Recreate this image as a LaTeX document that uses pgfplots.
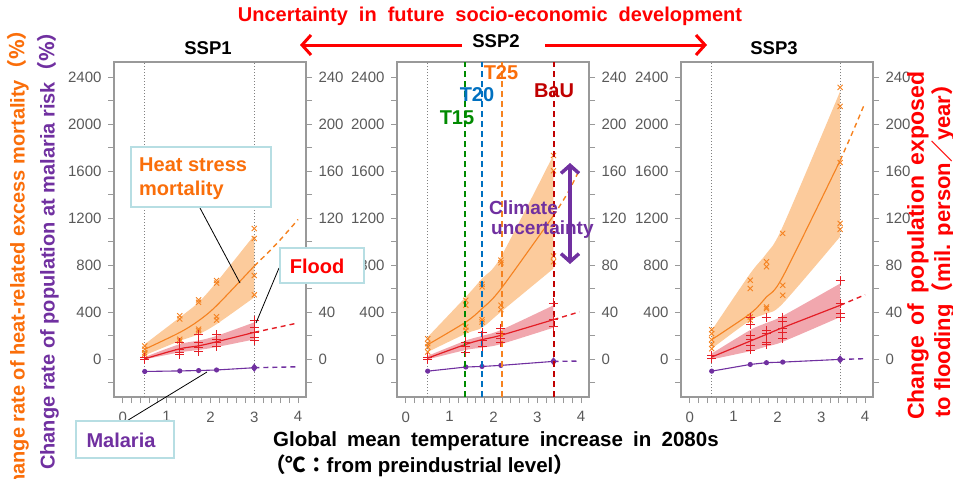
\documentclass[border=0pt]{standalone}
\usepackage{pgfplots}
\pgfplotsset{compat=1.18}
\usepgfplotslibrary{fillbetween}
\usetikzlibrary{arrows.meta}
\usepackage{fontspec}
\setmainfont{Liberation Sans}
\newfontfamily\cjk{Noto Sans CJK JP}
\definecolor{cOr}{HTML}{F58220}
\definecolor{cOrBand}{HTML}{FCCB9C}
\definecolor{cRed}{HTML}{E41E26}
\definecolor{cRedBand}{HTML}{EC8A93}
\definecolor{cPur}{HTML}{7030A0}
\definecolor{cTxtOr}{HTML}{FA6E0A}
\definecolor{cGreen}{HTML}{008A00}
\definecolor{cBlue}{HTML}{0070C0}
\definecolor{cBaU}{HTML}{C00000}
\definecolor{cBox}{HTML}{B7DEE3}
\definecolor{cAxis}{HTML}{999999}
\definecolor{cTick}{HTML}{595959}
\pgfplotsset{
 panel/.style={scale only axis, width=192pt, height=335pt, xmin=-0.2, xmax=4.18, anchor=south west,
   axis line style={cAxis, line width=1.2pt}, tick style={cAxis, line width=1pt}, tick align=outside,
   major tick length=6pt, minor tick length=6pt,
   ticklabel style={font=\fontsize{15}{17}\selectfont, text=cTick},
   /pgf/number format/assume math mode=true, /pgf/number format/1000 sep={}, scaled ticks=false},
 leftax/.style={panel, ymin=-320, ymax=2530, ytick={0,400,...,2400}, minor ytick={-200,200,...,2200},
   xtick={0,1,2,3,4}, minor x tick num=4, xtick pos=bottom, ytick pos=left,
   yticklabel style={xshift=-3pt}, xticklabel style={yshift=-5pt}},
 rightax/.style={panel, ymin=-32, ymax=253, ytick={0,40,...,240}, minor ytick={-20,20,...,220},
   axis y line*=right, hide x axis, yticklabel style={xshift=3pt}},
 band/.style={draw=none, smooth, forget plot},
 oline/.style={cOr, line width=1.1pt, smooth, no marks},
 odash/.style={cOr, line width=1.4pt, dash pattern=on 5pt off 4pt, smooth, no marks},
 omark/.style={only marks, mark=x, mark size=3.6pt, cOr, mark options={line width=0.9pt}},
 rline/.style={cRed, line width=1.2pt, smooth, no marks},
 rdash/.style={cRed, line width=1.4pt, dash pattern=on 5pt off 4pt, no marks},
 rmark/.style={only marks, mark=+, mark size=4.5pt, cRed, mark options={line width=0.9pt}},
 pline/.style={cPur, line width=1.1pt, mark=*, mark size=2pt},
 pdash/.style={cPur, line width=1.4pt, dash pattern=on 5pt off 4pt, no marks},
 pend/.style={only marks, mark=diamond*, mark size=3.8pt, cPur},
 vdot/.style={gray, dotted, line width=1pt, no marks},
}
\begin{document}
\begin{tikzpicture}
% ===== Panel 1 (SSP1) =====
\begin{axis}[leftax, at={(114pt,-397pt)}]
\addplot[vdot] coordinates {(0.5,-320) (0.5,2530)};
\addplot[vdot] coordinates {(3.0,-320) (3.0,2530)};
\addplot[band, name path=u1] coordinates {(0.5,129) (1.3,357) (1.73,486) (2.14,657) (3.0,1057)};
\addplot[band, name path=l1] coordinates {(0.5,35) (1.3,157) (1.73,214) (2.14,300) (3.0,528)};
\addplot[cOrBand, draw=none] fill between[of=u1 and l1];
\addplot[oline] coordinates {(0.5,86) (1.3,229) (1.73,329) (2.14,457) (3.0,794)};
\addplot[odash] coordinates {(3.0,794) (3.5,980) (4.0,1190)};
\addplot[omark] coordinates {(0.5,114)(0.5,86)(0.5,57)(0.5,43)(1.3,371)(1.3,343)(1.3,171)(1.3,157)(1.73,506)(1.73,486)(1.73,257)(1.73,243)(2.14,671)(2.14,649)(2.14,363)(2.14,334)(3.0,1114)(3.0,1029)(3.0,714)(3.0,549)};
\addplot[pline] coordinates {(0.5,-103)(1.3,-98)(1.73,-95)(2.14,-90)(3.0,-71)};
\addplot[pdash] coordinates {(3.0,-71)(3.98,-63)};
\addplot[pend] coordinates {(3.0,-71)};
\end{axis}
\begin{axis}[rightax, at={(114pt,-397pt)}]
\addplot[band, name path=ru1] coordinates {(0.5,2)(1.3,13)(1.73,16)(2.14,20)(3.0,31.5)};
\addplot[band, name path=rl1] coordinates {(0.5,0)(1.3,6)(1.73,8)(2.14,10.5)(3.0,17)};
\addplot[cRedBand, draw=none, opacity=0.75] fill between[of=ru1 and rl1];
\addplot[rline] coordinates {(0.5,0.5)(1.3,9)(1.73,11.5)(2.14,15)(3.0,23)};
\addplot[rdash] coordinates {(3.0,23)(4.0,31)};
\addplot[rmark] coordinates {(0.5,1.4)(0.5,0)(1.3,14)(1.3,8.6)(1.3,5.7)(1.3,4)(1.73,21)(1.73,14)(1.73,10)(1.73,7)(2.14,21)(2.14,17)(2.14,14)(2.14,11)(3.0,33)(3.0,27)(3.0,23)(3.0,19)(3.0,16)};
\end{axis}
% ===== Panel 2 (SSP2) =====
\begin{axis}[leftax, at={(397pt,-397pt)}]
\addplot[vdot] coordinates {(0.5,-320) (0.5,2530)};
\addplot[band, name path=u2] coordinates {(0.5,190)(1.37,532)(1.74,688)(2.17,873)(3.37,1740)};
\addplot[band, name path=l2] coordinates {(0.5,63)(1.37,219)(1.74,270)(2.17,404)(3.37,773)};
\addplot[cOrBand, draw=none] fill between[of=u2 and l2];
\addplot[oline] coordinates {(0.5,125)(1.37,318)(1.74,432)(2.17,600)(3.37,1223)};
\addplot[odash] coordinates {(3.37,1223)(3.7,1420)(3.96,1612)};
\addplot[omark] coordinates {(0.5,176)(0.5,134)(0.5,105)(0.5,63)(1.37,503)(1.37,461)(1.37,276)(1.37,247)(1.74,640)(1.74,617)(1.74,338)(1.74,318)(2.17,844)(2.17,822)(2.17,461)(2.17,424)(3.37,1734)(3.37,1604)(3.37,879)(3.37,830)};
\addplot[pline] coordinates {(0.5,-100)(1.37,-65)(1.74,-60)(2.17,-51)(3.37,-17)};
\addplot[pdash] coordinates {(3.37,-17)(3.96,-14)};
\addplot[pend] coordinates {(3.37,-17)};
\end{axis}
\begin{axis}[rightax, at={(397pt,-397pt)}]
\addplot[band, name path=ru2] coordinates {(0.5,3)(1.37,16)(1.74,20)(2.17,25)(3.37,46)};
\addplot[band, name path=rl2] coordinates {(0.5,0)(1.37,8)(1.74,10)(2.17,13)(3.37,27)};
\addplot[cRedBand, draw=none, opacity=0.75] fill between[of=ru2 and rl2];
\addplot[rline] coordinates {(0.5,1.1)(1.37,12.8)(1.74,16.8)(2.17,20.5)(3.37,33.8)};
\addplot[rdash] coordinates {(3.37,33.8)(3.96,40.4)};
\addplot[rmark] coordinates {(0.5,2)(0.5,0)(1.37,14.8)(1.37,11)(1.37,6)(1.74,23)(1.74,16)(1.74,11)(2.17,26)(2.17,22)(2.17,17.6)(2.17,14)(3.37,48)(3.37,34)(3.37,28)};
\addplot[cGreen, line width=1.6pt, dash pattern=on 6pt off 4pt] coordinates {(1.356,-32)(1.356,253)};
\addplot[cBlue, line width=1.6pt, dash pattern=on 6pt off 4pt] coordinates {(1.74,-32)(1.74,253)};
\addplot[cOr, line width=1.6pt, dash pattern=on 6pt off 4pt] coordinates {(2.19,-32)(2.19,253)};
\addplot[cBaU, line width=1.8pt, dash pattern=on 6pt off 4pt] coordinates {(3.39,-32)(3.39,253)};
\end{axis}
% ===== Panel 3 (SSP3) =====
\begin{axis}[leftax, at={(681pt,-397pt)}]
\addplot[vdot] coordinates {(0.5,-320) (0.5,2530)};
\addplot[vdot] coordinates {(3.43,-320) (3.43,2530)};
\addplot[band, name path=u3] coordinates {(0.5,247)(1.38,731)(1.75,901)(2.12,1129)(3.43,2280)};
\addplot[band, name path=l3] coordinates {(0.5,91)(1.38,333)(1.75,390)(2.12,475)(3.43,1044)};
\addplot[cOrBand, draw=none] fill between[of=u3 and l3];
\addplot[oline] coordinates {(0.5,168)(1.38,390)(1.75,532)(2.12,702)(3.43,1692)};
\addplot[odash] coordinates {(3.43,1692)(3.7,1920)(3.98,2167)};
\addplot[omark] coordinates {(0.5,253)(0.5,219)(0.5,168)(0.5,128)(0.5,91)(1.38,674)(1.38,603)(1.38,361)(1.38,333)(1.75,830)(1.75,788)(1.75,446)(1.75,432)(2.12,1072)(2.12,631)(2.12,546)(3.43,2314)(3.43,2152)(3.43,1675)(3.43,1157)(3.43,1106)};
\addplot[pline] coordinates {(0.5,-100)(1.38,-43)(1.75,-28)(2.12,-23)(3.43,0)};
\addplot[pdash] coordinates {(3.43,0)(4.0,6)};
\addplot[pend] coordinates {(3.43,0)};
\end{axis}
\begin{axis}[rightax, at={(681pt,-397pt)}]
\addplot[band, name path=ru3] coordinates {(0.5,5)(1.38,25)(1.75,31)(2.12,37)(3.43,64.5)};
\addplot[band, name path=rl3] coordinates {(0.5,0)(1.38,7)(1.75,11)(2.12,15)(3.43,36)};
\addplot[cRedBand, draw=none, opacity=0.75] fill between[of=ru3 and rl3];
\addplot[rline] coordinates {(0.5,2)(1.38,15.6)(1.75,21.3)(2.12,27)(3.43,46)};
\addplot[rdash] coordinates {(3.43,46)(4.0,55)};
\addplot[rmark] coordinates {(0.5,3.4)(0.5,0.6)(1.38,36)(1.38,30)(1.38,20)(1.38,17)(1.38,12)(1.38,8)(1.75,35.5)(1.75,25)(1.75,22)(1.75,14)(1.75,13)(2.12,36)(2.12,32)(2.12,26)(2.12,23)(2.12,17.6)(3.43,67)(3.43,47.5)(3.43,39)(3.43,36)};
\end{axis}
% ===== Annotations =====
\begin{scope}[x=1pt, y=-1pt]
\node[text=red, font=\bfseries\fontsize{20}{22}\selectfont] at (490,16) {\spaceskip=0.55em Uncertainty in future socio-economic development};
\node[font=\bfseries\fontsize{18.5}{20}\selectfont] at (208,48) {SSP1};
\node[font=\bfseries\fontsize{18.5}{20}\selectfont] at (496,41) {SSP2};
\node[font=\bfseries\fontsize{18.5}{20}\selectfont] at (774,48) {SSP3};
\draw[red, line width=3pt, -{Straight Barb[length=9pt,width=20pt]}] (462,45) -- (300,45);
\draw[red, line width=3pt, -{Straight Barb[length=9pt,width=20pt]}] (545,45) -- (707,45);
\node[rotate=90, anchor=east, text=cTxtOr, font=\bfseries\fontsize{20}{22}\selectfont, inner sep=0pt] at (18,20) {Change rate of heat-related excess mortality{\cjk （\%）}};
\node[rotate=90, anchor=east, text=cPur, font=\bfseries\fontsize{20}{22}\selectfont, inner sep=0pt] at (48,22) {Change rate of population at malaria risk{\cjk （\%）}};
\node[rotate=90, anchor=west, text=red, font=\bfseries\fontsize{23}{24}\selectfont, inner sep=0pt] at (918,420) {\spaceskip=0.45em Change of population exposed};
\node[rotate=90, anchor=west, text=red, font=\bfseries\fontsize{22}{24}\selectfont, inner sep=0pt] at (943,418) {to flooding{\cjk （}mil. person{\cjk ／}year{\cjk ）}};
\node[anchor=west, font=\bfseries\fontsize{20.5}{22}\selectfont, inner sep=0pt] at (273,441) {\spaceskip=0.5em Global mean temperature increase in 2080s};
\node[anchor=west, font=\bfseries\fontsize{20.5}{22}\selectfont, inner sep=0pt] at (265,466) {{\cjk （℃：}from preindustrial level{\cjk ）}};
% T labels
\node[text=cGreen, font=\bfseries\fontsize{20}{22}\selectfont] at (457,118) {T15};
\node[text=cBlue, font=\bfseries\fontsize{20}{22}\selectfont] at (477,95) {T20};
\node[text=cTxtOr, font=\bfseries\fontsize{20}{22}\selectfont] at (501,73) {T25};
\node[text=cBaU, font=\bfseries\fontsize{20}{22}\selectfont] at (554,91) {BaU};
% climate uncertainty
\node[anchor=west, text=cPur, font=\bfseries\fontsize{19}{22}\selectfont, inner sep=0pt] at (489,208) {Climate};
\node[anchor=west, text=cPur, font=\bfseries\fontsize{19}{22}\selectfont, inner sep=0pt] at (491,230) {uncertainty};
\draw[cPur, line width=3.5pt, {Straight Barb[length=8pt,width=18pt]}-{Straight Barb[length=8pt,width=18pt]}] (570,163) -- (570,264);
% callouts
\draw[black, line width=0.8pt] (200,208) -- (240,283);
\draw[black, line width=0.8pt] (279,268) -- (256,323);
\draw[black, line width=0.8pt] (125,422) -- (207,372);
\draw[cBox, line width=2.5pt, fill=white] (131,147) rectangle (271,207);
\node[anchor=west, text=cTxtOr, font=\bfseries\fontsize{20}{22}\selectfont, inner sep=0pt] at (139,165) {Heat stress};
\node[anchor=west, text=cTxtOr, font=\bfseries\fontsize{20}{22}\selectfont, inner sep=0pt] at (139,190) {mortality};
\draw[cBox, line width=2.5pt, fill=white] (280,248) rectangle (364,283);
\node[text=red, font=\bfseries\fontsize{20}{22}\selectfont] at (317,266) {Flood};
\draw[cBox, line width=2.5pt, fill=white] (76,421) rectangle (174,458);
\node[text=cPur, font=\bfseries\fontsize{20}{22}\selectfont] at (121,440) {Malaria};
\end{scope}
\pgfresetboundingbox
\useasboundingbox (0pt,0pt) rectangle (953pt,-479pt);
\end{tikzpicture}
\end{document}
